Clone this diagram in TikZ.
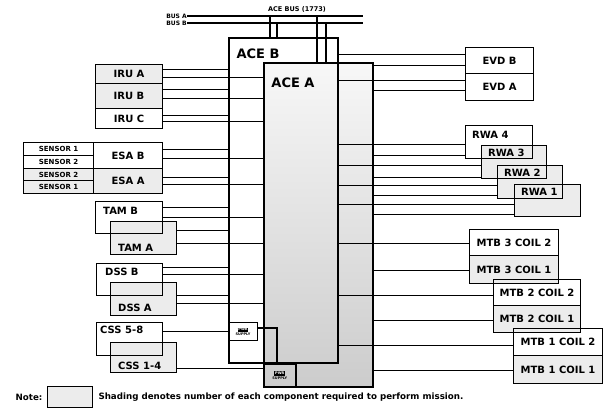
\documentclass[tikz,border=0pt]{standalone}
\usepackage{fontspec}
\setmainfont{DejaVu Sans}
\usetikzlibrary{positioning, backgrounds}

\tikzset{
  devbox/.style={draw, line width=1.1pt, inner sep=0pt, anchor=north west,
    font=\fontsize{10}{12}\selectfont\bfseries},
  acebox/.style={draw, line width=1.6pt, inner sep=0pt, anchor=north west},
  wire/.style={line width=1.1pt},
  lbl/.style={font=\fontsize{10}{12}\selectfont\bfseries, inner sep=0pt, anchor=west},
  smalltxt/.style={font=\fontsize{6}{7}\selectfont\bfseries, inner sep=0pt},
  shadefill/.style={fill=gray!15},
}

\begin{document}
\begin{tikzpicture}[x=1pt, y=-1pt]
  \useasboundingbox (0,0) rectangle (604,410);

  % ACE boxes (B behind, A in front)
  \node[acebox, minimum width=109pt, minimum height=325pt] (aceB) at (228,37) {};
  \node[acebox, minimum width=109pt, minimum height=324pt] (aceA) at (263,62) {};
  \node[font=\fontsize{13}{15}\selectfont\bfseries] (aceBlbl) at (258,54) {ACE B};
  \node[font=\fontsize{13}{15}\selectfont\bfseries] (aceAlbl) at (293,83) {ACE A};

  % small supply boxes
  \node[devbox, minimum width=29pt, minimum height=18pt, align=center,
    font=\fontsize{3.5}{4}\selectfont\bfseries] (supB) at (228,322)
    {\setlength\fboxsep{0.8pt}\colorbox{black}{\textcolor{white}{PWR}}\\[0.5pt]SUPPLY};
  \node[acebox, minimum width=32pt, minimum height=23pt, align=center,
    font=\fontsize{3.5}{4}\selectfont\bfseries] (supA) at (263,363)
    {\setlength\fboxsep{0.8pt}\colorbox{black}{\textcolor{white}{PWR}}\\[0.5pt]SUPPLY};
  \draw[line width=1.6pt] (supB.east |- 0,328) -| ([xshift=14pt]supA.north west);

  % bus
  \node[smalltxt, anchor=east] (busAlbl) at (187,16) {BUS A};
  \node[smalltxt, anchor=east] (busBlbl) at (187,23) {BUS B};
  \node[smalltxt, font=\fontsize{6.5}{7}\selectfont\bfseries] (busname) at (297,9) {ACE BUS (1773)};
  \coordinate (busAend) at (363,16);
  \coordinate (busBend) at (363,23);
  \draw[wire] (busAlbl.east) -- (busAend);
  \draw[wire] (busBlbl.east) -- (busBend);
  \coordinate (tapB1) at (270,16);
  \coordinate (tapB2) at (277,23);
  \coordinate (tapA1) at (317,16);
  \coordinate (tapA2) at (326,23);
  \draw[wire] (tapB1) -- (tapB1 |- aceB.north);
  \draw[wire] (tapB2) -- (tapB2 |- aceB.north);
  \draw[wire] (tapA1) -- (tapA1 |- aceA.north);
  \draw[wire] (tapA2) -- (tapA2 |- aceA.north);

  % left side units
  \node[devbox, minimum width=67pt, minimum height=19pt] (iruA) at (95,64) {IRU A};
  \node[devbox, minimum width=67pt, minimum height=25pt] (iruB) at (95,83) {IRU B};
  \node[devbox, minimum width=67pt, minimum height=20pt] (iruC) at (95,108) {IRU C};

  \node[devbox, minimum width=70pt, minimum height=13pt, font=\fontsize{7}{8}\selectfont\bfseries] (s1) at (23,142) {SENSOR 1};
  \node[devbox, minimum width=70pt, minimum height=13pt, font=\fontsize{7}{8}\selectfont\bfseries] (s2) at (23,155) {SENSOR 2};
  \node[devbox, minimum width=70pt, minimum height=12pt, font=\fontsize{7}{8}\selectfont\bfseries] (s3) at (23,168) {SENSOR 2};
  \node[devbox, minimum width=70pt, minimum height=13pt, font=\fontsize{7}{8}\selectfont\bfseries] (s4) at (23,180) {SENSOR 1};
  \node[devbox, minimum width=69pt, minimum height=26pt] (esaB) at (93,142) {ESA B};
  \node[devbox, minimum width=69pt, minimum height=25pt] (esaA) at (93,168) {ESA A};

  \node[devbox, minimum width=67pt, minimum height=32pt] (tamB) at (95,201) {};
  \node[devbox, minimum width=66pt, minimum height=33pt] (tamA) at (110,221) {};
  \node[lbl] (tamBlbl) at ([shift={(8,10)}]tamB.north west) {TAM B};
  \node[lbl] (tamAlbl) at ([shift={(8,-7)}]tamA.south west) {TAM A};

  \node[devbox, minimum width=66pt, minimum height=32pt] (dssB) at (96,263) {};
  \node[devbox, minimum width=66pt, minimum height=33pt] (dssA) at (110,282) {};
  \node[lbl] (dssBlbl) at ([shift={(9,9)}]dssB.north west) {DSS B};
  \node[lbl] (dssAlbl) at ([shift={(8,-8)}]dssA.south west) {DSS A};

  \node[devbox, minimum width=66pt, minimum height=33pt] (cssB) at (96,322) {};
  \node[devbox, minimum width=66pt, minimum height=30pt] (cssA) at (110,342) {};
  \node[lbl] (cssBlbl) at ([shift={(4,8)}]cssB.north west) {CSS 5-8};
  \node[lbl] (cssAlbl) at ([shift={(8,-7)}]cssA.south west) {CSS 1-4};

  % right side units
  \node[devbox, minimum width=68pt, minimum height=26pt] (evdB) at (465,47) {EVD B};
  \node[devbox, minimum width=68pt, minimum height=27pt] (evdA) at (465,73) {EVD A};

  \node[devbox, minimum width=67pt, minimum height=33pt] (rwa4) at (465,125) {};
  \node[devbox, minimum width=65pt, minimum height=33pt] (rwa3) at (481,145) {};
  \node[devbox, minimum width=65pt, minimum height=33pt] (rwa2) at (497,165) {};
  \node[devbox, minimum width=66pt, minimum height=32pt] (rwa1) at (514,184) {};
  \node[lbl] (rwa4lbl) at ([shift={(7,10)}]rwa4.north west) {RWA 4};
  \node[lbl] (rwa3lbl) at ([shift={(7,8)}]rwa3.north west) {RWA 3};
  \node[lbl] (rwa2lbl) at ([shift={(7,8)}]rwa2.north west) {RWA 2};
  \node[lbl] (rwa1lbl) at ([shift={(7,8)}]rwa1.north west) {RWA 1};

  \node[devbox, minimum width=89pt, minimum height=26pt] (mtb3c2) at (469,229) {MTB 3 COIL 2};
  \node[devbox, minimum width=89pt, minimum height=28pt] (mtb3c1) at (469,255) {MTB 3 COIL 1};
  \node[devbox, minimum width=87pt, minimum height=26pt] (mtb2c2) at (493,279) {MTB 2 COIL 2};
  \node[devbox, minimum width=87pt, minimum height=27pt] (mtb2c1) at (493,305) {MTB 2 COIL 1};
  \node[devbox, minimum width=89pt, minimum height=27pt] (mtb1c2) at (513,328) {MTB 1 COIL 2};
  \node[devbox, minimum width=89pt, minimum height=28pt] (mtb1c1) at (513,355) {MTB 1 COIL 1};

  % links, left units to ACE B / ACE A
  \foreach \dev/\dy/\ace in {iruA/4.5/aceB, iruA/-3.5/aceA, iruB/6.5/aceB, iruB/-2.5/aceA,
      iruC/3/aceB, iruC/-3/aceA, esaB/6/aceB, esaB/-3/aceA, esaA/3.5/aceB, esaA/-3.5/aceA,
      tamB/10/aceB, tamB/0/aceA, tamA/7.5/aceB, tamA/-5.5/aceA,
      dssB/12/aceB, dssB/5/aceA, dssA/3.5/aceB, dssA/-4.5/aceA}
    \draw[wire] ([yshift=\dy pt]\dev.east) coordinate (p) -- (p -| \ace.west);
  \draw[wire] (supB.west) -- (supB.west -| cssB.east);
  \draw[wire] ([yshift=6.5pt]supA.west) coordinate (p) -- (p -| cssA.east);

  % links, ACE B / ACE A to right units
  \foreach \dev/\dy/\ace in {evdB/6/aceB, evdB/-5/aceA, evdA/6.5/aceB, evdA/-3.5/aceA,
      rwa4/-2.5/aceB, rwa4/-13.5/aceA, rwa3/-3.5/aceB, rwa3/-15.5/aceA,
      rwa2/-3.5/aceB, rwa2/-13.5/aceA, rwa1/-4/aceB, rwa1/-14/aceA,
      mtb3c2/-1/aceB, mtb3c1/-1/aceA, mtb2c2/-3/aceB, mtb2c1/-1.5/aceA,
      mtb1c2/-3/aceB, mtb1c1/-1/aceA}
    \draw[wire] ([yshift=\dy pt]\dev.west) coordinate (p) -- (p -| \ace.east);

  % note
  \node[font=\fontsize{8.7}{10}\selectfont\bfseries] (noteLbl) at (29,397) {Note:};
  \node[devbox, minimum width=45pt, minimum height=21pt] (noteBox) at (47,386) {};
  \node[font=\fontsize{8.7}{10}\selectfont\bfseries, anchor=west] (noteTxt) at (95,397)
    {Shading denotes number of each component required to perform mission.};

  % shading
  \begin{scope}[on background layer]
    \shade[top color=gray!6, bottom color=gray!40] (aceA.north west) rectangle (aceA.south east);
    \foreach \n in {iruA, iruB, s3, s4, esaA, tamA, dssA, cssA, rwa3, rwa2, rwa1,
        mtb3c1, mtb2c1, mtb1c1, noteBox}
      \fill[shadefill] (\n.north west) rectangle (\n.south east);
  \end{scope}
\end{tikzpicture}
\end{document}
